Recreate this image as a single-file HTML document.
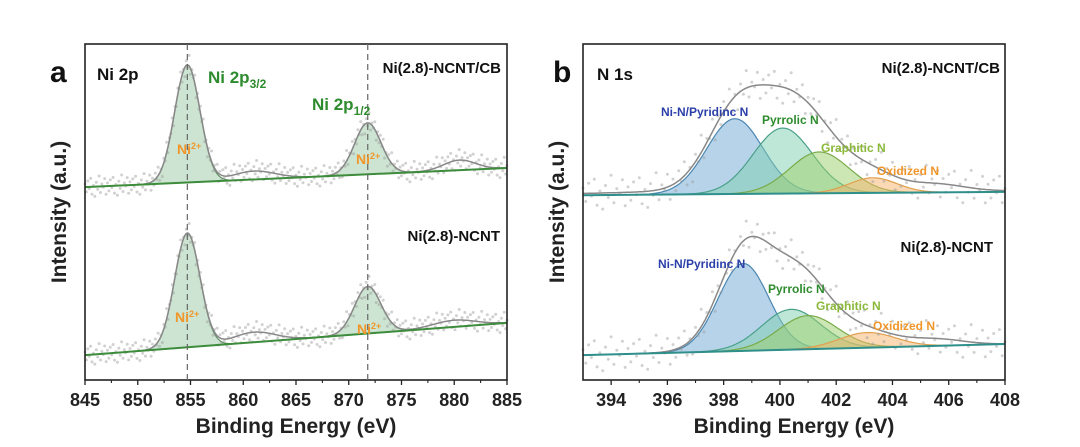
<!DOCTYPE html>
<html><head><meta charset="utf-8"><style>
html,body{margin:0;padding:0;background:#fff;width:1080px;height:447px;overflow:hidden}
svg text{font-family:"Liberation Sans",Arial,sans-serif;font-weight:bold}
</style></head><body>
<svg id="fig" width="1080" height="447" xmlns="http://www.w3.org/2000/svg"></svg>
<script>
// ---- Panel a data (Ni 2p) ----
const niTicks = [845,850,855,860,865,870,875,880,885];
const niCenters = [854.7, 871.8];
const niSigmas = [1.2, 1.25];
const niHeightsTop = [35, 15.3];
const niHeightsBottom = [34, 14];
const niBaseTop = [57.4, 63.1];     // baseline value at 845 and 885
const niBaseBottom = [7.4, 17];
const niSatTop = [[861,2.5,2],[880.5,3,1.5]];
const niSatBottom = [[861,3,2],[880,2,2]];
// ---- Panel b data (N 1s) ----
const nTicks = [394,396,398,400,402,404,406,408];
const nNames = ["Ni-N/Pyridinc N","Pyrrolic N","Graphitic N","Oxidized N"];
const nCentersTop = [398.4, 400.1, 401.4, 403.3];
const nHeightsTop = [22.4, 19.5, 12.3, 4.5];
const nSigmasTop = [1.0, 1.05, 1.05, 0.85];
const nCentersBottom = [398.7, 400.4, 401.0, 403.1];
const nHeightsBottom = [26, 12, 10, 4.5];
const nSigmasBottom = [0.9, 1.05, 1.05, 1.0];
const nBaseTop = [55, 56];
const nBaseBottom = [7.4, 10.7];
const jitter = [0.8,-1.2,1.5,-0.4,2.1,-1.8,0.3,-2.4,1.1,-0.7,2.6,-1.5,0.6,-0.2,1.9,-2.0];

const svg = document.getElementById('fig');
const NS = 'http://www.w3.org/2000/svg';
function mk(tag, attrs, parent){const e=document.createElementNS(NS,tag);for(const k in attrs)e.setAttribute(k,attrs[k]);(parent||svg).appendChild(e);return e;}
function txt(s, x, y, size, fill, anchor, parent){const t=mk('text',{x:x,y:y,'font-size':size,fill:fill,'text-anchor':anchor||'start'},parent);t.textContent=s;return t;}
const Y0=380, Y1=44;
function yS(v){return Y0-(v/100)*(Y0-Y1);}
function gauss(x,c,s,h){return h*Math.exp(-((x-c)*(x-c))/(2*s*s));}

function panel(opt){
  const g=mk('g',{});
  
  
  const xS=v=>opt.x0+(v-opt.min)/(opt.max-opt.min)*(opt.x1-opt.x0);
  const base=(b,x)=>b[0]+(b[1]-b[0])*(x-opt.min)/(opt.max-opt.min);
  const N=300, xs=[];
  for(let i=0;i<=N;i++)xs.push(opt.min+(opt.max-opt.min)*i/N);
  opt.spectra.forEach((sp,si)=>{
    const sg=mk('g',{},g);
    
    
    sp.centers.forEach((c,ci)=>{
      let d='';
      xs.forEach((x,i)=>{d+=(i?'L':'M')+xS(x).toFixed(1)+','+yS(base(sp.base,x)+gauss(x,c,sp.sigmas[ci],sp.heights[ci])).toFixed(1);});
      for(let i=xs.length-1;i>=0;i--)d+='L'+xS(xs[i]).toFixed(1)+','+yS(base(sp.base,xs[i])).toFixed(1);
      const p=mk('path',{d:d+'Z',fill:opt.fills[ci],'fill-opacity':opt.fillOp,stroke:opt.strokes[ci],'stroke-width':1.2},sg);
      
      
    });
    const env=x=>{let v=base(sp.base,x);sp.centers.forEach((c,ci)=>v+=gauss(x,c,sp.sigmas[ci],sp.heights[ci]));(sp.sats||[]).forEach(s=>v+=gauss(x,s[0],s[2],s[1]));return v;};
    xs.forEach((x,i)=>{
      if(i%opt.step)return;
      const c=mk('circle',{cx:xS(x).toFixed(1),cy:yS(env(x)+jitter[(i/opt.step)%jitter.length]*opt.jit).toFixed(1),r:1.5,fill:'#999','fill-opacity':0.45},sg);
      
      
    });
    let d='';xs.forEach((x,i)=>{d+=(i?'L':'M')+xS(x).toFixed(1)+','+yS(env(x)).toFixed(1);});
    const e=mk('path',{d:d,fill:'none',stroke:'#888','stroke-width':1.5},sg);
    
    
    const bl=mk('line',{x1:opt.x0,x2:opt.x1,y1:yS(sp.base[0]),y2:yS(sp.base[1]),stroke:opt.baseColor,'stroke-width':2},sg);
    
    
  });
  const fr=mk('rect',{x:opt.x0,y:Y1,width:opt.x1-opt.x0,height:Y0-Y1,fill:'none',stroke:'#222','stroke-width':1.6},g);
  
  
  opt.ticks.forEach((t,i)=>{
    mk('line',{x1:xS(t),x2:xS(t),y1:Y0,y2:Y0+5,stroke:'#222','stroke-width':1.3},g);
    if(i<opt.ticks.length-1){const m=(t+opt.ticks[i+1])/2;mk('line',{x1:xS(m),x2:xS(m),y1:Y0,y2:Y0+3,stroke:'#222','stroke-width':1.1},g);}
    const tl=txt(String(t),xS(t),406,18,'#222','middle',g);
    
    
  });
  const xt=txt('Binding Energy (eV)',(opt.x0+opt.x1)/2,433,21,'#222','middle',g);
  
  
  const yt=txt('Intensity (a.u.)',0,0,21,'#222','middle',g);
  yt.setAttribute('transform','translate('+(opt.x0-19)+',212) rotate(-90)');
  
  
  return {g,xS};
}

const pa=panel({name:'panel-a-ni2p',x0:85,x1:507,min:845,max:885,ticks:niTicks,jit:1.2,step:1,
  fills:['#8fc49a','#8fc49a'],strokes:['#5f8f66','#5f8f66'],fillOp:0.45,baseColor:'#3c8c3c',
  spectra:[
   {name:'spectrum-ni-ncnt-cb',centers:niCenters,sigmas:niSigmas,heights:niHeightsTop,base:niBaseTop,sats:niSatTop},
   {name:'spectrum-ni-ncnt',centers:niCenters,sigmas:niSigmas,heights:niHeightsBottom,base:niBaseBottom,sats:niSatBottom}]});
niCenters.forEach(c=>{const l=mk('line',{x1:pa.xS(c),x2:pa.xS(c),y1:Y1,y2:Y0,stroke:'#666','stroke-width':1.2,'stroke-dasharray':'6,4'},pa.g);
  
  });
const ga=pa.g;
txt('a',50,82,30,'#111','start',ga);
txt('Ni 2p',97,80,17,'#111','start',ga);
let t=txt('Ni 2p',208,83,17,'#2e8b2e','start',ga);t.innerHTML='Ni 2p<tspan font-size="12" dy="5">3/2</tspan>';
t=txt('Ni 2p',312,110,17,'#2e8b2e','start',ga);t.innerHTML='Ni 2p<tspan font-size="12" dy="5">1/2</tspan>';
txt('Ni(2.8)-NCNT/CB',501,73,15,'#111','end',ga);
txt('Ni(2.8)-NCNT',500,241,15,'#111','end',ga);
[[177,154],[356,164],[175,322],[357,334]].forEach(p=>{const l=txt('Ni',p[0],p[1],14,'#f0962a','start',ga);l.innerHTML='Ni<tspan font-size="9" dy="-5">2+</tspan>';});

const nFills=['#6fa8d6','#7fd0b0','#9cd06a','#f5b46a'];
const nStrokes=['#4a86b0','#4aa08a','#7aaa4a','#e0a050'];
const pb=panel({name:'panel-b-n1s',x0:583,x1:1005,min:393,max:408,ticks:nTicks,jit:2,step:2,
  fills:nFills,strokes:nStrokes,fillOp:0.5,baseColor:'#2f8f8a',
  spectra:[
   {name:'spectrum-ni-ncnt-cb',centers:nCentersTop,sigmas:nSigmasTop,heights:nHeightsTop,base:nBaseTop,sats:[[399.5,1.2,5],[405.5,2,1]]},
   {name:'spectrum-ni-ncnt',centers:nCentersBottom,sigmas:nSigmasBottom,heights:nHeightsBottom,base:nBaseBottom,sats:[[399.5,3,1.5],[405.5,2,1]]}]});
const gb=pb.g;
txt('b',553,82,30,'#111','start',gb);
txt('N 1s',597,80,17,'#111','start',gb);
txt('Ni(2.8)-NCNT/CB',1000,73,15,'#111','end',gb);
txt('Ni(2.8)-NCNT',993,252,15,'#111','end',gb);
const lc=['#2b3fa8','#2e8b2e','#8ab83a','#f0962a'];
[[661,116],[762,124],[821,152],[877,175]].forEach((p,i)=>{txt(nNames[i],p[0],p[1],12,lc[i],'start',gb);});
[[658,268],[768,293],[816,310],[873,330]].forEach((p,i)=>{txt(nNames[i],p[0],p[1],12,lc[i],'start',gb);});
</script>
</body></html>
